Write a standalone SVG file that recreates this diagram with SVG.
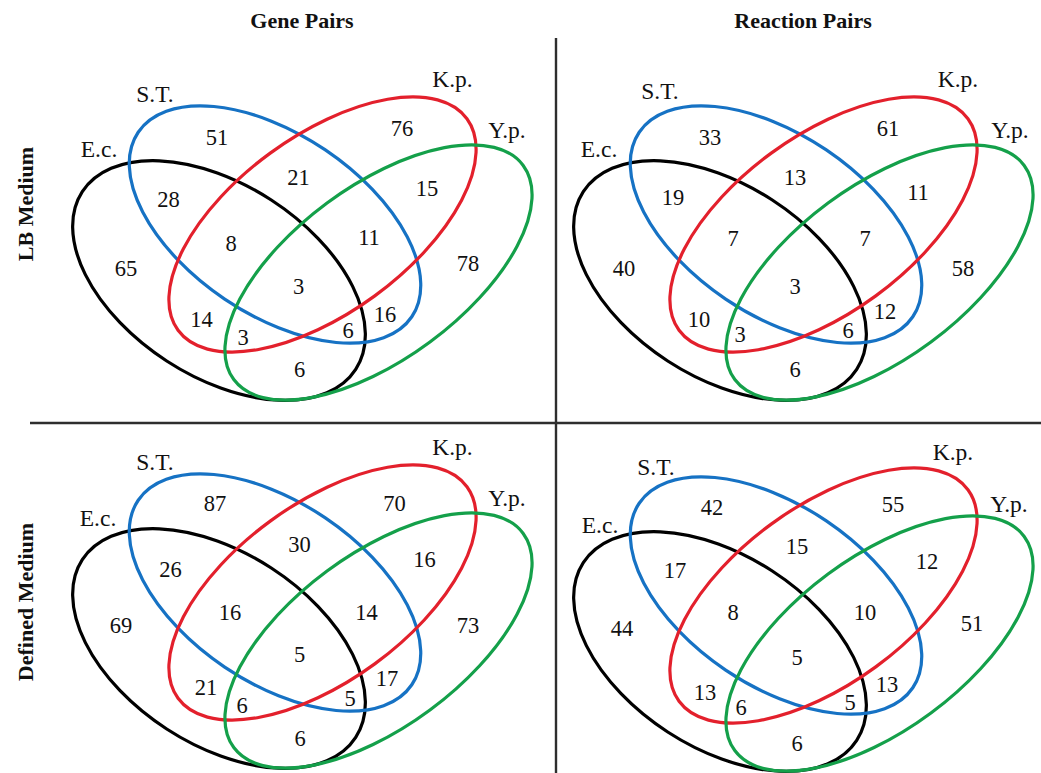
<svg xmlns="http://www.w3.org/2000/svg" width="1041" height="773" viewBox="0 0 1041 773" font-family="'Liberation Serif', 'DejaVu Serif', serif">
<style>
.e{fill:none;stroke-width:3.2}
.k{stroke:#000}
.b{stroke:#1672c4}
.r{stroke:#e3202c}
.g{stroke:#14a04a}
.sep{stroke:#2e2e2e;stroke-width:2.4}
text{font-family:'Liberation Serif','DejaVu Serif',serif;fill:#111;text-anchor:middle}
.n{font-size:22.5px}
.l{font-size:23.5px}
.h{font-size:22px;font-weight:bold}
</style>
<defs>
<g id="venn">
<ellipse class="e k" cx="0" cy="0" rx="163" ry="96" transform="translate(720 280.5) rotate(33)"/>
<ellipse class="e b" cx="0" cy="0" rx="165" ry="90" transform="translate(776 224.5) rotate(34)"/>
<ellipse class="e r" cx="0" cy="0" rx="179" ry="88.5" transform="translate(823.5 224.5) rotate(-36.2)"/>
<ellipse class="e g" cx="0" cy="0" rx="180" ry="86.5" transform="translate(879.5 272.5) rotate(-36.5)"/>
</g>
</defs>
<g id="separators">
<line class="sep" x1="556" y1="38" x2="556" y2="773"/>
<line class="sep" x1="30" y1="423" x2="1041" y2="423"/>
</g>
<g id="headers">
<text class="h" x="302" y="28">Gene Pairs</text>
<text class="h" x="803" y="28">Reaction Pairs</text>
<text class="h" transform="translate(33 204) rotate(-90)">LB Medium</text>
<text class="h" transform="translate(33 602) rotate(-90)">Defined Medium</text>
</g>
<g id="panel-lb-gene">
<use href="#venn" transform="translate(-501 0)"/>
<text class="l" x="155" y="102">S.T.</text>
<text class="l" x="452.5" y="87">K.p.</text>
<text class="l" x="507" y="137.5">Y.p.</text>
<text class="l" x="99" y="157">E.c.</text>
<text class="n" x="217" y="145">51</text>
<text class="n" x="402" y="136">76</text>
<text class="n" x="298.5" y="185">21</text>
<text class="n" x="168.5" y="207">28</text>
<text class="n" x="427" y="196">15</text>
<text class="n" x="231" y="251">8</text>
<text class="n" x="369" y="245">11</text>
<text class="n" x="126" y="276">65</text>
<text class="n" x="468" y="271">78</text>
<text class="n" x="298.5" y="294">3</text>
<text class="n" x="201.5" y="327">14</text>
<text class="n" x="385" y="322">16</text>
<text class="n" x="243" y="345">3</text>
<text class="n" x="348" y="338">6</text>
<text class="n" x="299.5" y="377">6</text>
</g>
<g id="panel-lb-reaction">
<use href="#venn"/>
<text class="l" x="660" y="99">S.T.</text>
<text class="l" x="958" y="87">K.p.</text>
<text class="l" x="1010" y="138">Y.p.</text>
<text class="l" x="599" y="157">E.c.</text>
<text class="n" x="710" y="145">33</text>
<text class="n" x="888" y="136">61</text>
<text class="n" x="795" y="185">13</text>
<text class="n" x="673" y="205">19</text>
<text class="n" x="918" y="200">11</text>
<text class="n" x="733" y="246">7</text>
<text class="n" x="865" y="246">7</text>
<text class="n" x="624" y="276">40</text>
<text class="n" x="963" y="276">58</text>
<text class="n" x="795" y="294">3</text>
<text class="n" x="699" y="327">10</text>
<text class="n" x="885" y="319">12</text>
<text class="n" x="740" y="342">3</text>
<text class="n" x="848" y="338">6</text>
<text class="n" x="795" y="377">6</text>
</g>
<g id="panel-defined-gene">
<use href="#venn" transform="translate(-501 368)"/>
<text class="l" x="155" y="470">S.T.</text>
<text class="l" x="452.5" y="455">K.p.</text>
<text class="l" x="507" y="506">Y.p.</text>
<text class="l" x="98" y="526">E.c.</text>
<text class="n" x="215" y="511">87</text>
<text class="n" x="394.5" y="511">70</text>
<text class="n" x="299.5" y="552">30</text>
<text class="n" x="170.5" y="577">26</text>
<text class="n" x="424.5" y="567">16</text>
<text class="n" x="230" y="620">16</text>
<text class="n" x="366.5" y="620">14</text>
<text class="n" x="121" y="633">69</text>
<text class="n" x="468" y="633">73</text>
<text class="n" x="299.5" y="662">5</text>
<text class="n" x="206" y="695">21</text>
<text class="n" x="387" y="686">17</text>
<text class="n" x="242" y="713">6</text>
<text class="n" x="350" y="706">5</text>
<text class="n" x="300" y="746">6</text>
</g>
<g id="panel-defined-reaction">
<use href="#venn" transform="translate(0 371)"/>
<text class="l" x="656" y="475">S.T.</text>
<text class="l" x="953" y="460">K.p.</text>
<text class="l" x="1009" y="512">Y.p.</text>
<text class="l" x="600" y="533">E.c.</text>
<text class="n" x="712" y="515">42</text>
<text class="n" x="893" y="512">55</text>
<text class="n" x="797" y="554">15</text>
<text class="n" x="675" y="578">17</text>
<text class="n" x="927" y="569">12</text>
<text class="n" x="733" y="620">8</text>
<text class="n" x="865" y="620">10</text>
<text class="n" x="622" y="636">44</text>
<text class="n" x="972" y="631">51</text>
<text class="n" x="797" y="665">5</text>
<text class="n" x="705" y="700">13</text>
<text class="n" x="887" y="692">13</text>
<text class="n" x="741" y="715">6</text>
<text class="n" x="850" y="710">5</text>
<text class="n" x="797" y="751">6</text>
</g>
</svg>
